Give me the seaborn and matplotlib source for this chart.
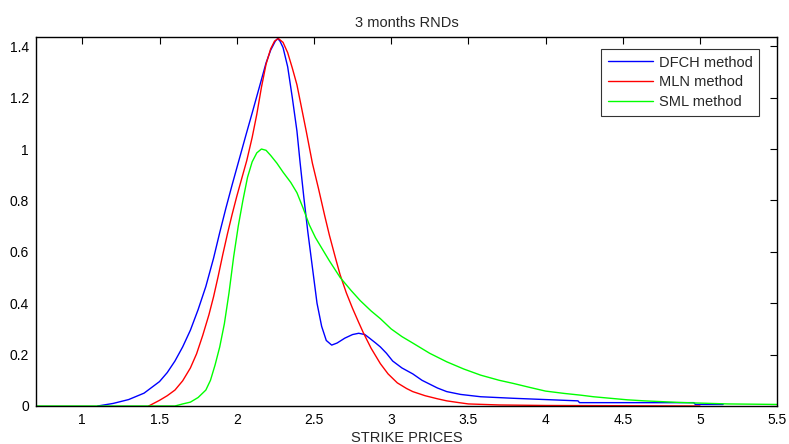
import matplotlib
matplotlib.use('Agg')
import matplotlib.pyplot as plt
import seaborn as sns
import pandas as pd

# DFCH method
dfch_x = [1.10, 1.20, 1.30, 1.40, 1.50, 1.55, 1.60, 1.65, 1.70, 1.75, 1.80, 1.85, 1.89, 1.93,
          1.97, 2.00, 2.03, 2.06, 2.10, 2.13, 2.16, 2.19, 2.22, 2.25, 2.265, 2.28, 2.30,
          2.33, 2.36, 2.39, 2.41, 2.435, 2.46, 2.49, 2.52, 2.55, 2.58, 2.615, 2.65, 2.70, 2.75,
          2.79, 2.83, 2.86, 2.90, 2.93, 2.97, 3.01, 3.07, 3.14, 3.20, 3.25, 3.30, 3.36, 3.45,
          3.58, 3.79, 4.00, 4.21, 4.22, 4.96, 4.97, 5.15]
dfch_y = [0.000, 0.010, 0.025, 0.050, 0.095, 0.130, 0.175, 0.230, 0.295, 0.375, 0.465, 0.575, 0.675, 0.770,
          0.860, 0.925, 0.990, 1.055, 1.140, 1.205, 1.270, 1.335, 1.385, 1.420, 1.430, 1.420, 1.395,
          1.320, 1.200, 1.070, 0.950, 0.810, 0.680, 0.540, 0.400, 0.310, 0.255, 0.237, 0.245, 0.264, 0.278,
          0.283, 0.278, 0.264, 0.245, 0.230, 0.205, 0.175, 0.148, 0.125, 0.100, 0.085, 0.070, 0.056, 0.045,
          0.036, 0.030, 0.025, 0.020, 0.013, 0.013, 0.006, 0.006]

# MLN method
mln_x = [1.43, 1.50, 1.55, 1.60, 1.65, 1.70, 1.74, 1.78, 1.82, 1.85, 1.88, 1.91, 1.94, 1.97,
         2.00, 2.03, 2.065, 2.10, 2.13, 2.16, 2.19, 2.22, 2.245, 2.27, 2.30, 2.33, 2.36, 2.39,
         2.42, 2.45, 2.49, 2.53, 2.57, 2.60, 2.64, 2.67, 2.71, 2.75, 2.79, 2.82, 2.87, 2.93,
         2.98, 3.04, 3.10, 3.14, 3.22, 3.30, 3.36, 3.44, 3.50, 3.70, 4.00, 4.50, 5.00]
mln_y = [0.000, 0.022, 0.040, 0.062, 0.098, 0.148, 0.203, 0.275, 0.355, 0.425, 0.505, 0.590, 0.670, 0.745,
         0.815, 0.880, 0.955, 1.045, 1.135, 1.240, 1.330, 1.390, 1.420, 1.430, 1.415, 1.375, 1.315, 1.250,
         1.160, 1.070, 0.945, 0.845, 0.740, 0.665, 0.575, 0.510, 0.440, 0.380, 0.325, 0.285, 0.225, 0.165,
         0.125, 0.090, 0.068, 0.056, 0.040, 0.028, 0.020, 0.013, 0.008, 0.004, 0.002, 0.001, 0.000]

# SML method
sml_x = [0.70, 1.60, 1.65, 1.70, 1.75, 1.80, 1.83, 1.86, 1.89, 1.92, 1.95, 1.98, 2.01, 2.04,
         2.07, 2.10, 2.13, 2.16, 2.19, 2.22, 2.26, 2.30, 2.35, 2.39, 2.43, 2.47, 2.51, 2.55,
         2.60, 2.67, 2.74, 2.80, 2.87, 2.93, 3.00, 3.07, 3.14, 3.25, 3.36, 3.47, 3.58, 3.70,
         3.79, 3.90, 4.00, 4.12, 4.23, 4.31, 4.42, 4.53, 4.64, 4.75, 4.86, 4.96, 5.07, 5.18,
         5.35, 5.50]
sml_y = [0.000, 0.000, 0.008, 0.015, 0.033, 0.062, 0.100, 0.160, 0.230, 0.320, 0.440, 0.580, 0.700, 0.800,
         0.890, 0.950, 0.985, 1.000, 0.995, 0.975, 0.945, 0.910, 0.870, 0.830, 0.770, 0.705, 0.655, 0.615,
         0.565, 0.500, 0.450, 0.410, 0.370, 0.340, 0.300, 0.270, 0.245, 0.205, 0.172, 0.144, 0.120, 0.100,
         0.088, 0.072, 0.058, 0.049, 0.042, 0.036, 0.030, 0.024, 0.020, 0.017, 0.014, 0.012, 0.010, 0.008,
         0.007, 0.006]

labels = ['DFCH method', 'MLN method', 'SML method']
colors = ['#0000ff', '#ff0000', '#00ff00']
x_ticks = [1, 1.5, 2, 2.5, 3, 3.5, 4, 4.5, 5, 5.5]
y_ticks = [0, 0.2, 0.4, 0.6, 0.8, 1, 1.2, 1.4]

sns.set_style('white')
plt.rcParams['font.family'] = ['Liberation Sans', 'DejaVu Sans']

fig = plt.figure(figsize=(7.89, 4.44), dpi=100)
ax = fig.add_axes([0.0456, 0.0856, 0.9394, 0.8311])

for xs, ys, lab, col in zip([dfch_x, mln_x, sml_x], [dfch_y, mln_y, sml_y], labels, colors):
    df = pd.DataFrame({'x': xs, 'y': ys})
    sns.lineplot(data=df, x='x', y='y', ax=ax, color=col, label=lab, linewidth=1.0,
                 estimator=None, sort=False)

ax.set_xlim(0.7, 5.5)
ax.set_ylim(0, 1.436)
ax.set_xticks(x_ticks)
ax.set_xticklabels([f'{t:g}' for t in x_ticks])
ax.set_yticks(y_ticks)
ax.set_yticklabels([f'{t:g}' for t in y_ticks])
ax.tick_params(direction='in', length=5, width=0.8, top=True, right=True,
               labelsize=10, colors='black', pad=5)
for sp in ax.spines.values():
    sp.set_visible(True)
    sp.set_color('black')
    sp.set_linewidth(1.0)

ax.set_title('3 months RNDs', fontsize=10.5, pad=7)
ax.set_xlabel('STRIKE PRICES', fontsize=10.5, labelpad=3)
ax.set_ylabel('')

leg = ax.legend(loc='upper right', fontsize=10.5, frameon=True, fancybox=False,
                edgecolor='black', handlelength=3.1, handletextpad=0.4, borderpad=0.45,
                labelspacing=0.4, borderaxespad=0, bbox_to_anchor=(0.9757, 0.9675))
leg.get_frame().set_linewidth(0.8)

fig.savefig('out.png', dpi=100)
